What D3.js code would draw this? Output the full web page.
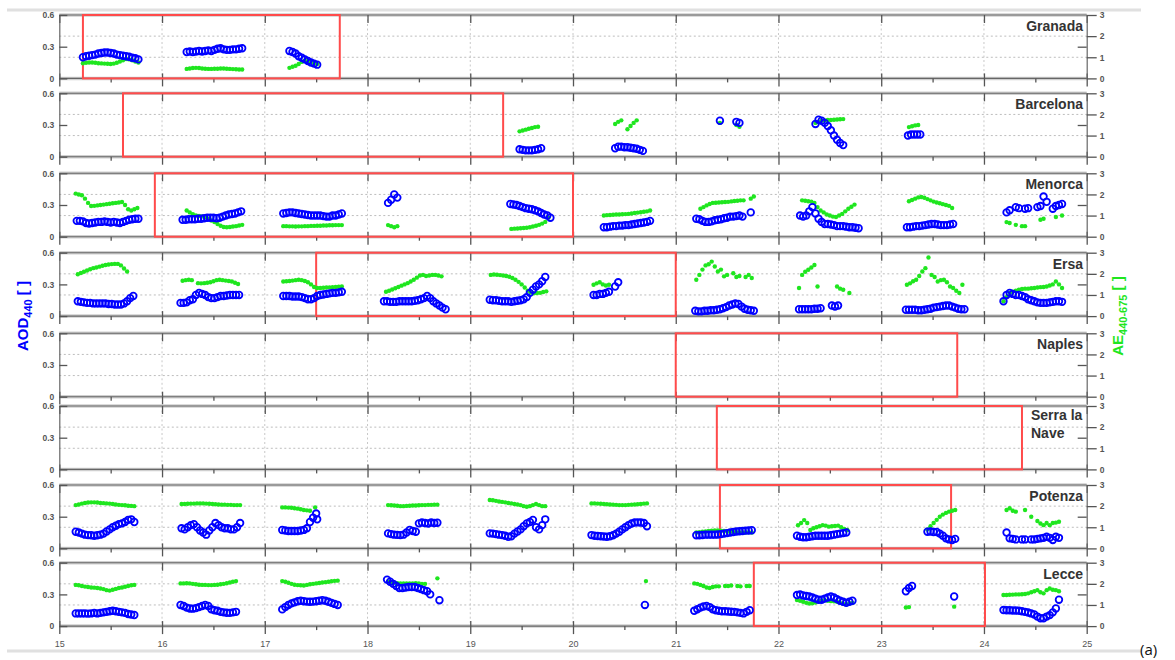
<!DOCTYPE html>
<html><head><meta charset="utf-8">
<script src="https://cdn.jsdelivr.net/npm/d3@7/dist/d3.min.js"></script>
<style>body{margin:0;background:#fff}svg{display:block}</style>
</head><body><svg id="c" width="1175" height="660"></svg>
<script>
const stations = ["Granada","Barcelona","Menorca","Ersa","Naples","Serra la Nave","Potenza","Lecce"];
const xTicks = [15,16,17,18,19,20,21,22,23,24,25];
const halfDays = [15.5,16.5,17.5,18.5,19.5,20.5,21.5,22.5,23.5,24.5];
const gridDays = [16,17,18,19,20,21,22,23,24];
const aodTicks = [0,0.3,0.6];
const aodTickLabels = ["0","0.3","0.6"];
const gridAOD = [0.2,0.4];
const aeTicks = [0,1,2,3];
const aeTickLabels = ["0","1","2","3"];
const boxStart = [15.23,15.62,15.93,17.5,21.0,21.4,21.43,21.76];
const boxEnd   = [17.73,19.32,20.0,21.0,23.74,24.37,23.68,24.01];
const STEP = 0.03; // sampling interval (days) of each measurement run

const granadaAOD = [
 [15.23,[.20,.21,.215,.22,.225,.235,.24,.245,.245,.24,.235,.225,.22,.215,.21,.205,.195,.19,.18]],
 [16.24,[.25,.255,.25,.255,.26,.255,.26,.265,.26,.27,.28,.285,.275,.27,.27,.275,.275,.28,.285]],
 [17.24,[.26,.25,.235,.21,.195,.18,.165,.15,.14,.13]]
];
const granadaAE = [
 [15.23,[.72,.74,.75,.75,.74,.72,.71,.70,.69,.68,.70,.74,.80,.86,.92,.90,.86,.80,.75]],
 [16.24,[.45,.47,.49,.50,.49,.47,.46,.45,.45,.46,.46,.47,.47,.46,.45,.44,.43,.42,.42]],
 [17.24,[.50,.55,.60,.68,.78,.85,.82,.78,.72,.68]]
];
const barcelonaAOD = [
 [19.48,[.07,.065,.06,.06,.06,.065,.07,.08]],
 [20.41,[.08,.095,.095,.09,.09,.085,.08,.075,.065,.055]],
 [21.43,[.34]],
 [21.59,[.33,.32]],
 [22.36,[.31,.35,.34,.32,.29,.25,.20,.16,.13,.11]],
 [23.26,[.20,.21,.21,.21,.21]]
];
const barcelonaAE = [
 [19.48,[1.2,1.24,1.28,1.32,1.36,1.40,1.42]],
 [20.41,[1.55,1.65,1.72]],
 [20.53,[1.3,1.45,1.6,1.72]],
 [21.43,[1.6]],
 [21.59,[1.5,1.42]],
 [22.36,[1.6,1.65,1.7,1.72,1.74,1.74,1.75,1.76,1.77,1.78]],
 [23.27,[1.4,1.44,1.48,1.5]]
];
const menorcaAOD = [
 [15.17,[.15,.15,.145,.13,.125,.13,.135,.14,.14,.145,.14,.135,.14,.135,.13,.14,.15,.16,.165,.17,.17]],
 [16.20,[.16,.16,.165,.165,.165,.17,.17,.175,.18,.18,.18,.175,.18,.19,.20,.21,.215,.22,.23,.24]],
 [17.18,[.22,.225,.23,.23,.225,.22,.215,.21,.205,.20,.20,.20,.20,.195,.19,.19,.20,.20,.21,.22]],
 [18.20,[.32,.35,.40,.37]],
 [19.39,[.31,.305,.30,.29,.28,.27,.265,.26,.25,.24,.225,.21,.20,.18]],
 [20.30,[.09,.09,.095,.10,.10,.105,.105,.11,.11,.115,.12,.125,.13,.135,.14,.15]],
 [21.20,[.17,.165,.15,.14,.14,.145,.155,.16,.165,.175,.18,.19,.19,.195,.20,.19]],
 [21.73,[.23]],
 [22.21,[.20,.19,.20,.24,.28,.22,.17,.14,.12,.12,.115,.11,.10,.10,.10,.095,.09,.09,.085,.08]],
 [23.25,[.09,.09,.095,.10,.10,.105,.11,.115,.12,.12,.115,.11,.11,.11,.115,.12]],
 [24.22,[.23,.25,null,.28,.27,null,.265,.27,null,null,.28,.29,.38,.33,null,.265,.29,.30,.31]]
];
const menorcaAE = [
 [15.16,[2.04,2.0,1.96,1.8,1.6,1.45,1.46,1.48,1.5,1.52,1.54,1.56,1.58,1.6,1.62,1.64,1.5,1.3,1.24,1.3,1.36]],
 [16.24,[1.24,1.15,1.06,1.0,.98,.96,.93,.85,.77,.69,.6,.52,.46,.45,.46,.48,.5,.53,.56]],
 [17.18,[.5,.5,.49,.49,.48,.49,.49,.5,.5,.51,.51,.52,.52,.53,.53,.54,.54,.55,.55,.55]],
 [18.20,[.55,.5,.45,.5]],
 [19.40,[.37,.38,.39,.40,.41,.42,.45,.48,.52,.56,.62,.70,.90]],
 [20.30,[1.0,1.02,1.03,1.04,1.05,1.05,1.06,1.07,1.08,1.1,1.12,1.14,1.16,1.18,1.2,1.24]],
 [21.24,[1.32,1.4,1.48,1.55,1.6,1.61,1.62,1.63,1.64,1.65,1.67,1.69,1.7,1.72,1.72]],
 [21.73,[1.8,1.9]],
 [22.23,[1.72,1.70,1.68,1.66,1.6,1.4,1.24,1.15,1.05,1.0,.95,.93,1.0,1.08,1.2,1.32,1.42,1.52]],
 [23.27,[1.68,1.74,1.8,1.86,1.88,1.84,1.78,1.72,1.66,1.62,1.58,1.54,1.5,1.46,1.36]],
 [24.22,[.69,.65,null,.56,null,.5,.5,null,null,null,null,.8,.85,null,null,null,.93,null,1.0]]
];
const ersaAOD = [
 [15.18,[.14,.135,.13,.125,.125,.12,.12,.12,.12,.12,.115,.115,.11,.11,.11,.12,.14,.17,.19]],
 [16.18,[.125,.125,.13,.15,.16,.20,.22,.21,.20,.18,.17,.17,.18,.19,.19,.195,.20,.20,.20,.20]],
 [17.18,[.19,.19,.19,.185,.185,.185,.18,.17,.16,.16,.17,.19,.20,.205,.21,.215,.22,.22,.225,.23]],
 [18.16,[.14,.14,.135,.135,.135,.14,.14,.14,.14,.14,.145,.15,.16,.17,.19,.17,.14,.12,.10,.08,.065]],
 [19.19,[.155,.15,.15,.145,.14,.14,.14,.135,.14,.145,.15,.16,.18,.22,.25,.28,.30,.33,.37]],
 [20.20,[.20,.20,.21,.21,.22,.23,null,.28,.32]],
 [21.19,[.05,.045,.045,.05,.05,.055,.055,.06,.065,.075,.085,.10,.11,.12,.115,.09,.07,.06,.055,.05]],
 [22.20,[.065,.065,.065,.065,.065,.07,.07,.075]],
 [22.52,[.10,.09,.10]],
 [23.24,[.06,.06,.06,.06,.055,.055,.06,.065,.07,.08,.085,.09,.095,.10,.10,.09,.08,.07,.065,.065]],
 [24.19,[.14,.20,.22,.21,.20,.20,.19,.18,.16,.15,.14,.13,.125,.125,.125,.13,.135,.14,.14,.135]]
];
const ersaAE = [
 [15.18,[1.98,2.04,2.1,2.16,2.22,2.27,2.3,2.34,2.38,2.42,2.44,2.46,2.47,2.47,2.4,2.25,2.11]],
 [16.20,[1.67,1.7,1.72,1.7,null,1.56,1.55,1.56,1.58,1.6,1.65,1.7,1.72,1.7,1.68,1.66,1.64,1.58,1.52]],
 [17.18,[1.64,1.65,1.66,1.68,1.7,1.72,1.7,1.66,1.6,1.5,1.38,1.33,1.33,1.34,1.35,1.36,1.37,1.38,1.39,1.4]],
 [18.18,[1.15,1.2,1.26,1.32,1.38,1.44,1.5,1.56,1.64,1.72,1.82,1.92,1.95,1.9,1.92,1.95,1.95,1.92,1.88]],
 [19.20,[1.95,1.97,1.96,1.94,1.92,1.9,1.86,1.8,1.72,1.62,1.5,1.35,1.2,1.12,1.08,1.09,1.1,1.14,1.17]],
 [20.20,[1.48,1.55,1.6,1.5,1.45,1.48]],
 [21.20,[1.72,1.95,2.2,2.4,2.45,2.58,2.35,2.11,2.2,1.88,1.95,null,2.03,1.85,1.9,null,1.85,1.95,1.8,null]],
 [22.20,[1.33,1.95,2.1,2.19,2.3,2.42,1.4]],
 [22.57,[1.4,1.3,1.25,null,1.09]],
 [23.25,[1.48,1.55,1.65,1.72,1.9,2.11,2.27,2.77,1.95,1.85,1.64,1.7,1.72,1.6,1.4,1.33,1.2,1.09,1.48]],
 [24.19,[.7,.9,1.09,1.15,1.2,1.25,1.28,1.3,1.3,1.32,1.33,1.35,1.37,1.38,1.4,1.45,1.5,1.64,1.5,1.33]]
];
const potenzaAOD = [
 [15.16,[.158,.15,.14,.13,.126,.125,.12,.125,.13,.14,.16,.18,.20,.215,.23,.237,.25,.27,.275,.25]],
 [16.19,[.19,.18,.20,.22,.23,.20,.17,.15,.13,.17,.20,.24,.22,.20,.19,.19,.18,.18,.20,.24]],
 [17.17,[.174,.17,.165,.165,.165,.165,.17,.175,.19,.25,.29,.33]],
 [17.51,[.275]],
 [18.20,[.142,.135,.13,.128,.126,.13,.15,.174,.165,.158,.237,.245,.24,.235,.245,.24,.243]],
 [19.19,[.142,.14,.135,.13,.126,.12,.11,.115,.14,.16,.18,.21,.237,.25,.27,.20,.18,.22,.275]],
 [20.18,[.126,.12,.118,.115,.112,.11,.115,.125,.14,.158,.18,.20,.22,.235,.245,.246,.245,.24,.21]],
 [21.20,[.125,.125,.127,.13,.13,.13,.13,.132,.135,.14,.145,.15,.155,.16,.162,.165,.168,.17,.172]],
 [22.18,[.12,.11,.105,.105,.11,.115,.12,.12,.12,.12,.12,.125,.13,.135,.14,.145,.15]],
 [23.45,[.158,.16,.155,.155,.14,.12,.095,.085,.08,.09]],
 [24.22,[.15,.095,.09,.085,null,.085,.085,null,.085,.085,.09,.095,.10,.11,.10,.08,.11,.10]]
];
const potenzaAE = [
 [15.16,[2.05,2.08,2.12,2.15,2.17,2.18,2.18,2.17,2.15,2.14,2.13,2.12,2.1,2.08,2.06,2.05,2.04,2.02,2.01,2.0]],
 [16.19,[2.1,2.1,2.11,2.12,2.12,2.13,2.13,2.13,2.12,2.11,2.1,2.09,2.08,2.07,2.07,2.06,2.06,2.05,2.05,2.05]],
 [17.17,[1.94,1.94,1.93,1.92,1.9,1.88,1.85,1.82,1.8,1.78]],
 [17.49,[1.94]],
 [18.20,[2.05,2.04,2.03,2.02,2.0,2.0,2.01,2.02,2.03,2.03,2.04,2.05,2.05,2.06,2.06,2.07,2.07]],
 [19.19,[2.29,2.28,2.25,2.22,2.2,2.18,2.15,2.13,2.1,2.08,2.05,2.0,1.97,2.0,2.05,2.1,2.05,2.0,2.0]],
 [20.18,[2.13,2.13,2.12,2.11,2.1,2.09,2.08,2.07,2.06,2.05,2.05,2.05,2.06,2.07,2.08,2.09,2.1,2.12,2.13]],
 [21.20,[.75,.77,.79,.8,.82,.84,.85,.85,.84,.82,.8,.79,.78,.77,.76,.75,.75,.76,.75]],
 [22.19,[1.1,1.2,1.34,1.2,.87,.95,1.0,1.05,1.1,1.08,1.03,1.05,1.06,1.08,1.0,.92,.87]],
 [23.45,[.9,1.05,1.2,1.35,1.5,1.6,1.68,1.74,1.78,1.82]],
 [24.22,[1.82,1.9,1.78,1.74,null,null,1.82,null,1.5,null,1.3,1.18,1.1,1.2,1.1,1.2,1.22,1.26]]
];
const lecceAOD = [
 [15.16,[.12,.12,.12,.12,.118,.12,.125,.12,.125,.13,.135,.14,.145,.14,.135,.13,.125,.115,.11,.105]],
 [16.18,[.20,.19,.175,.167,.165,.17,.18,.19,.20,.19,.16,.15,.145,.135,.13,.126,.125,.13,.135]],
 [17.17,[.158,.18,.20,.215,.225,.235,.24,.235,.232,.23,.232,.235,.24,.245,.24,.23,.22,.21,.20]],
 [18.19,[.44,.42,.40,.38,.36,.36,.365,.37,.37,.37,.36,.35,.34,.33,.30,null,null,.245]],
 [20.70,[.20]],
 [21.18,[.145,.16,.175,.185,.19,.18,.16,.15,.145,.14,.14,.138,.136,.135,.13,.125,.12,.135,.15]],
 [22.18,[.294,.30,.29,.285,.28,.27,.26,.25,.25,.26,.27,.28,.27,.255,.24,.23,.22,.23,.24]],
 [23.24,[.33,.36,.38]],
 [23.71,[.28]],
 [24.19,[.152,.15,.15,.148,.147,.145,.14,.135,.128,.12,.11,.09,.075,.075,.09,.104,.13,.167,.25]]
];
const lecceAE = [
 [15.16,[1.95,1.93,1.9,1.87,1.85,1.83,1.82,1.8,1.78,1.75,1.7,1.68,1.72,1.76,1.8,1.83,1.86,1.9,1.93,1.95]],
 [16.18,[2.02,2.02,2.03,2.02,2.0,1.98,1.96,1.95,1.95,1.94,1.94,1.95,1.96,1.98,2.0,2.03,2.06,2.1,2.13]],
 [17.17,[2.13,2.1,2.05,2.0,1.96,1.94,1.93,1.92,1.95,1.98,2.0,2.02,2.04,2.06,2.08,2.1,2.12,2.14,2.15]],
 [18.20,[2.1,2.08,2.05,2.03,2.02,2.02,2.02,2.02,2.02,2.03,2.02,2.0,2.0]],
 [18.68,[2.26]],
 [20.71,[2.13]],
 [21.18,[2.02,2.0,1.95,1.9,1.83,1.8,1.85,1.88,1.88,null,1.9,1.9,1.92,null,1.9,1.88,null,1.9,1.9]],
 [22.18,[1.23,1.2,1.15,1.1,1.07,1.08,1.12,1.18,1.2,1.22,1.2,1.18,1.17,1.15,1.1,1.05,1.03,1.07,1.1]],
 [23.24,[.88,.9]],
 [23.71,[.92]],
 [24.19,[1.47,1.47,1.48,1.49,1.5,1.5,1.51,1.52,1.55,1.6,1.65,1.7,1.6,1.55,1.7,1.78,1.72,1.7,1.65]]
];
const stationAOD = [granadaAOD, barcelonaAOD, menorcaAOD, ersaAOD, [], [], potenzaAOD, lecceAOD];
const stationAE  = [granadaAE, barcelonaAE, menorcaAE, ersaAE, [], [], potenzaAE, lecceAE];

// ---------- layout ----------
const panelTop = [15, 93.3, 173.3, 252.7, 333.3, 406, 485, 562.7];
const PH = 63.4;
const FONT = "'Liberation Sans', Arial, sans-serif";
const BLUE = "#0000ff", GREEN = "#1fe61f", RED = "#ff4b4b";

function expand(runs){
  const pts = [];
  runs.forEach(([s, vals]) => vals.forEach((v, i) => { if (v !== null) pts.push([s + i*STEP, v]); }));
  return pts;
}

const svg = d3.select("#c");
svg.append("rect").attr("width",1175).attr("height",660).attr("fill","#fff");
svg.append("line").attr("x1",7).attr("x2",1141).attr("y1",10).attr("y2",10).attr("stroke","#e0e0e0").attr("stroke-width",3);
svg.append("line").attr("x1",7).attr("x2",1141).attr("y1",651).attr("y2",651).attr("stroke","#e0e0e0").attr("stroke-width",3);

const x = d3.scaleLinear().domain([15,25]).range([59.3,1086.7]);

function styleAxis(sel){
  sel.selectAll("path.domain").attr("stroke","#666").attr("stroke-width",1.2);
  sel.selectAll(".tick line").attr("stroke","#555").attr("stroke-width",1.3);
  sel.selectAll(".tick text").attr("fill","#555").attr("font-family",FONT).attr("font-weight","bold").attr("font-size",8.5);
}

stations.forEach((name, i) => {
  const top = panelTop[i], bot = top + PH;
  const yA = d3.scaleLinear().domain([0,0.6]).range([bot,top]);
  const yE = d3.scaleLinear().domain([0,3]).range([bot,top]);
  const g = svg.append("g");

  // grid
  g.append("g").selectAll("line").data(gridAOD).join("line")
    .attr("x1",x(15)).attr("x2",x(25)).attr("y1",d=>yA(d)).attr("y2",d=>yA(d))
    .attr("stroke","#bdbdbd").attr("stroke-width",1).attr("stroke-dasharray","2,2.5");
  g.append("g").selectAll("line").data(gridDays).join("line")
    .attr("x1",d=>x(d)).attr("x2",d=>x(d)).attr("y1",top).attr("y2",bot)
    .attr("stroke","#c8c8c8").attr("stroke-width",1).attr("stroke-dasharray","2,2.5");

  // top / bottom frame
  [top, bot].forEach(yy => {
    g.append("line").attr("x1",x(15)).attr("x2",x(25)).attr("y1",yy).attr("y2",yy).attr("stroke","#cfcfcf").attr("stroke-width",3.5);
    g.append("line").attr("x1",x(15)).attr("x2",x(25)).attr("y1",yy).attr("y2",yy).attr("stroke","#666").attr("stroke-width",1.1);
  });

  // x ticks
  g.append("g").attr("transform",`translate(0,${bot})`)
    .call(d3.axisBottom(x).tickValues(xTicks).tickSizeInner(8).tickSizeOuter(0).tickPadding(7)
      .tickFormat(i === stations.length-1 ? (d => d) : (() => "")))
    .call(styleAxis).call(s => s.select("path.domain").remove())
    .call(s => s.selectAll(".tick text").attr("font-weight","normal").attr("font-size",9));
  g.append("g").attr("transform",`translate(0,${bot})`)
    .call(d3.axisBottom(x).tickValues(xTicks).tickSizeInner(-5).tickSizeOuter(0).tickFormat(() => ""))
    .call(styleAxis).call(s => s.select("path.domain").remove());
  g.append("g").attr("transform",`translate(0,${bot})`)
    .call(d3.axisBottom(x).tickValues(halfDays).tickSizeInner(4).tickSizeOuter(0).tickFormat(() => ""))
    .call(styleAxis).call(s => s.select("path.domain").remove());
  g.append("g").attr("transform",`translate(0,${top})`)
    .call(d3.axisTop(x).tickValues(xTicks).tickSizeInner(-8).tickSizeOuter(0).tickFormat(() => ""))
    .call(styleAxis).call(s => s.select("path.domain").remove());

  // left AOD axis
  g.append("g").attr("transform",`translate(${x(15)},0)`)
    .call(d3.axisLeft(yA).tickValues(aodTicks).tickSizeInner(-8).tickSizeOuter(0).tickPadding(5)
      .tickFormat((d,j) => aodTickLabels[j]))
    .call(styleAxis);
  // right AE axis
  g.append("g").attr("transform",`translate(${x(25)},0)`)
    .call(d3.axisRight(yE).tickValues(aeTicks).tickSizeInner(10).tickSizeOuter(0).tickPadding(3)
      .tickFormat((d,j) => aeTickLabels[j]))
    .call(styleAxis);
  g.append("g").attr("transform",`translate(${x(25)},0)`)
    .call(d3.axisRight(yE).tickValues([1.5]).tickSizeInner(-9).tickSizeOuter(0).tickFormat(() => ""))
    .call(styleAxis).call(s => s.select("path.domain").remove());

  // red box
  g.append("rect").attr("x",x(boxStart[i])).attr("y",top)
    .attr("width",x(boxEnd[i]) - x(boxStart[i])).attr("height",PH)
    .attr("fill","none").attr("stroke",RED).attr("stroke-width",2);

  // data
  g.append("g").selectAll("circle").data(expand(stationAE[i])).join("circle")
    .attr("cx",d=>x(d[0])).attr("cy",d=>yE(d[1])).attr("r",2.2).attr("fill",GREEN);
  g.append("g").selectAll("circle").data(expand(stationAOD[i])).join("circle")
    .attr("cx",d=>x(d[0])).attr("cy",d=>yA(d[1])).attr("r",3.3)
    .attr("fill","none").attr("stroke",BLUE).attr("stroke-width",1.8);

  // station name
  if (name === "Serra la Nave") {
    const t = g.append("text").attr("font-family",FONT).attr("font-weight","bold").attr("font-size",14).attr("fill","#333");
    t.append("tspan").attr("x",1031).attr("y",top+14).text("Serra la");
    t.append("tspan").attr("x",1031).attr("y",top+32).text("Nave");
  } else {
    g.append("text").attr("x",1083).attr("y",top+16).attr("text-anchor","end")
      .attr("font-family",FONT).attr("font-weight","bold").attr("font-size",14).attr("fill","#333").text(name);
  }
});

// y-axis titles
const lt = svg.append("text").attr("transform","translate(28,316) rotate(-90)").attr("text-anchor","middle")
  .attr("font-family",FONT).attr("font-weight","bold").attr("font-size",15).attr("fill",BLUE);
lt.append("tspan").text("AOD");
lt.append("tspan").attr("font-size",11).attr("dy",4).text("440");
lt.append("tspan").attr("dy",-4).text(" [ ]");

const rt = svg.append("text").attr("transform","translate(1123,316) rotate(-90)").attr("text-anchor","middle")
  .attr("font-family",FONT).attr("font-weight","bold").attr("font-size",15).attr("fill",GREEN);
rt.append("tspan").text("AE");
rt.append("tspan").attr("font-size",11).attr("dy",4).text("440-675");
rt.append("tspan").attr("dy",-4).text(" [ ]");

svg.append("text").attr("x",1140).attr("y",655).attr("font-family","'Open Sans', 'Liberation Sans', sans-serif")
  .attr("font-size",15).attr("fill","#111").text("(a)");
</script>
</body></html>
